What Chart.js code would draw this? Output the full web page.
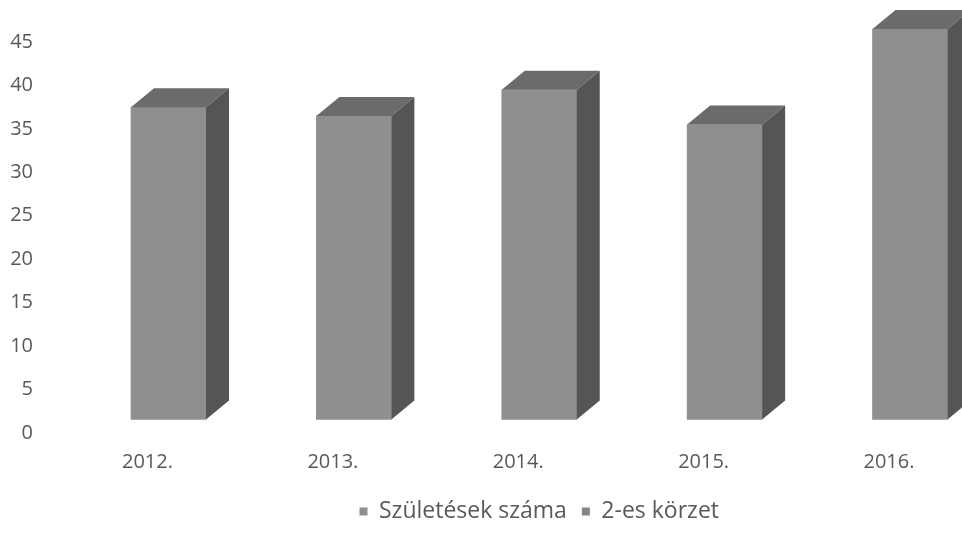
<!DOCTYPE html>
<html>
<head>
<meta charset="utf-8">
<script src="https://cdn.jsdelivr.net/npm/chart.js@4.4.1/dist/chart.umd.min.js"></script>
<style>
  html, body { margin: 0; padding: 0; background: #fff; }
  #wrap { width: 962px; height: 533px; }
</style>
</head>
<body>
<div id="wrap"><canvas id="chart" width="962" height="533"></canvas></div>
<script>
// chart data
const years = ['2012.', '2013.', '2014.', '2015.', '2016.'];
const births = [36, 35, 38, 34, 45];
const district2 = [];
const seriesNames = ['Születések száma', '2-es körzet'];
const yTicks = [0, 5, 10, 15, 20, 25, 30, 35, 40, 45];

const FONT = '"Open Sans", "DejaVu Sans", sans-serif';
const TEXT = '#595959';
const DEPTH_X = 23, DEPTH_Y = 19;

// draws the top and right side of each bar so they look like 3D columns
const boxSides = {
    id: 'boxSides',
    afterDatasetsDraw(chart) {
        const ctx = chart.ctx;
        const meta = chart.getDatasetMeta(0);
        ctx.save();
        meta.data.forEach(bar => {
            const x0 = bar.x - bar.width / 2;
            const x1 = bar.x + bar.width / 2;
            const top = bar.y, bottom = bar.base;
            // top face
            ctx.fillStyle = '#6b6b6b';
            ctx.beginPath();
            ctx.moveTo(x0, top);
            ctx.lineTo(x0 + DEPTH_X, top - DEPTH_Y);
            ctx.lineTo(x1 + DEPTH_X, top - DEPTH_Y);
            ctx.lineTo(x1, top);
            ctx.closePath();
            ctx.fill();
            // side face
            ctx.fillStyle = '#555555';
            ctx.beginPath();
            ctx.moveTo(x1, top);
            ctx.lineTo(x1 + DEPTH_X, top - DEPTH_Y);
            ctx.lineTo(x1 + DEPTH_X, bottom - DEPTH_Y);
            ctx.lineTo(x1, bottom);
            ctx.closePath();
            ctx.fill();
        });
        ctx.restore();
    }
};

new Chart(document.getElementById('chart').getContext('2d'), {
    type: 'bar',
    data: {
        labels: years,
        datasets: [
            { label: seriesNames[0], data: births, backgroundColor: '#8f8f8f', borderWidth: 0, grouped: false, barThickness: 75, clip: false },
            { label: seriesNames[1], data: district2, backgroundColor: '#858585', borderWidth: 0, grouped: false, barThickness: 75, clip: false }
        ]
    },
    options: {
        responsive: false,
        animation: false,
        layout: { padding: { left: 0, right: 52, top: 29, bottom: 0 } },
        plugins: {
            legend: {
                position: 'bottom',
                fullSize: false,
                labels: {
                    boxWidth: 8, boxHeight: 8, padding: 15,
                    color: TEXT, font: { family: FONT, size: 23 }
                }
            },
            tooltip: { enabled: false }
        },
        scales: {
            x: {
                offset: false,
                grid: { display: true, drawOnChartArea: false, drawTicks: true, tickLength: 30, color: 'rgba(0,0,0,0)' },
                border: { display: false },
                afterFit: scale => { scale.height = 65; },
                ticks: {
                    color: TEXT, font: { family: FONT, size: 20 },
                    labelOffset: -21, padding: 0, autoSkip: false, maxRotation: 0
                }
            },
            y: {
                min: 0, max: 45,
                grid: { display: true, drawOnChartArea: false, drawTicks: true, tickLength: 135.5, color: 'rgba(0,0,0,0)' },
                border: { display: false },
                afterBuildTicks: scale => { scale.ticks = yTicks.map(v => ({ value: v })); },
                afterFit: scale => { scale.width = 168.5; },
                ticks: {
                    color: TEXT, font: { family: FONT, size: 20 },
                    padding: 0, labelOffset: 13
                }
            }
        }
    },
    plugins: [boxSides]
});
</script>
</body>
</html>
